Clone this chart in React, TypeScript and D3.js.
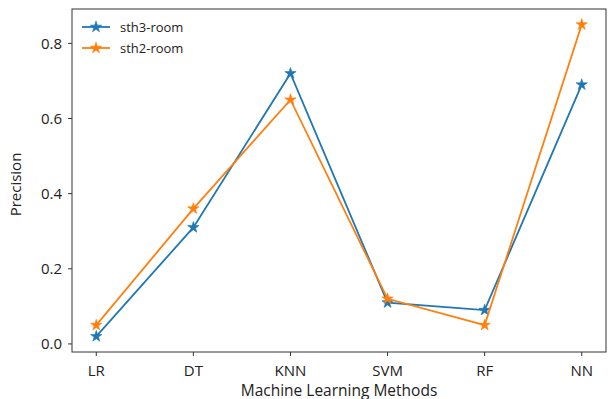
import React from "react"
import * as d3 from "d3"

const methods = ["LR", "DT", "KNN", "SVM", "RF", "NN"]
const sth3Room = [0.02, 0.31, 0.72, 0.11, 0.09, 0.69]
const sth2Room = [0.05, 0.36, 0.65, 0.12, 0.05, 0.85]
const yTicks = [0.0, 0.2, 0.4, 0.6, 0.8]

const seriesList = [
  { name: "sth3-room", values: sth3Room, color: "#1f77b4" },
  { name: "sth2-room", values: sth2Room, color: "#ff7f0e" },
]

const width = 608
const height = 399
const left = 72
const right = 606
const top = 9
const bottom = 352
const font = "'Open Sans', 'DejaVu Sans', sans-serif"

export default function App() {
  // matplotlib-ish 5% margins on both axes
  const x = d3.scaleLinear().domain([-0.25, methods.length - 0.75]).range([left, right])
  const y = d3.scaleLinear().domain([-0.0215, 0.8915]).range([bottom, top])

  const line = d3
    .line<number>()
    .x((d, i) => x(i))
    .y((d) => y(d))

  const star = d3.symbol().type(d3.symbolStar).size(40)()

  return (
    <svg
      width={width}
      height={height}
      style={{ position: "absolute", left: 0, top: 0, background: "#fff" }}
      fontFamily={font}
    >
      <rect x={0} y={0} width={width} height={height} fill="#fff" />

      {seriesList.map((s) => (
        <g key={s.name}>
          <path d={line(s.values) || ""} fill="none" stroke={s.color} strokeWidth={1.8} />
          {s.values.map((v, i) => (
            <path key={i} d={star || ""} transform={`translate(${x(i)},${y(v)})`} fill={s.color} stroke={s.color} strokeWidth={0.6} />
          ))}
        </g>
      ))}

      {/* frame */}
      <rect x={left} y={top} width={right - left} height={bottom - top} fill="none" stroke="#333" strokeWidth={1} />

      {/* y axis */}
      {yTicks.map((t) => (
        <g key={t} transform={`translate(0,${y(t)})`}>
          <line x1={left - 4} x2={left} stroke="#333" strokeWidth={1} />
          <text x={left - 10} dy="0.35em" textAnchor="end" fontSize={15} fill="#222">
            {t.toFixed(1)}
          </text>
        </g>
      ))}
      <text
        transform={`translate(21,${(top + bottom) / 2 + 4}) rotate(-90)`}
        textAnchor="middle"
        fontSize={15}
        fill="#222"
      >
        Precision
      </text>

      {/* x axis */}
      {methods.map((m, i) => (
        <g key={m} transform={`translate(${x(i)},0)`}>
          <line y1={bottom} y2={bottom + 4} stroke="#333" strokeWidth={1} />
          <text y={bottom + 19} dy="0.35em" textAnchor="middle" fontSize={15} fill="#222">
            {m}
          </text>
        </g>
      ))}
      <text x={(left + right) / 2} y={396} textAnchor="middle" fontSize={15.5} fill="#222">
        Machine Learning Methods
      </text>

      {/* legend */}
      {seriesList.map((s, i) => (
        <g key={s.name} transform={`translate(0,${27 + i * 21})`}>
          <line x1={82} x2={110} stroke={s.color} strokeWidth={1.8} />
          <path d={star || ""} transform="translate(96,0)" fill={s.color} stroke={s.color} strokeWidth={0.6} />
          <text x={120} dy="0.35em" fontSize={13} fill="#222">
            {s.name}
          </text>
        </g>
      ))}
    </svg>
  )
}
